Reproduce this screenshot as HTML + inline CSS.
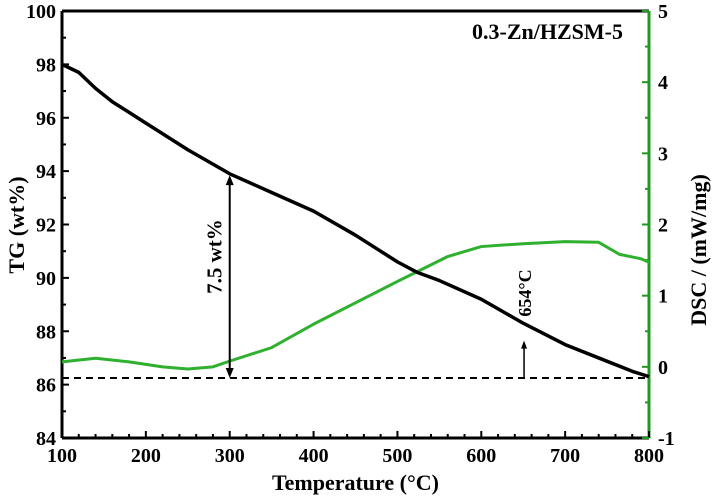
<!DOCTYPE html>
<html><head><meta charset="utf-8"><style>
html,body{margin:0;padding:0;background:#fff;}
svg{display:block;font-family:"Liberation Serif",serif;font-weight:bold;}
</style></head><body>
<svg id="chart" width="713" height="498" viewBox="0 0 713 498" xmlns="http://www.w3.org/2000/svg">
</svg>
<script>
const tgTemps=[100,120,140,160,180,200,250,300,350,400,450,500,524,550,600,650,700,740,780,800];
const tgValues=[98,97.7,97.1,96.6,96.2,95.8,94.8,93.9,93.2,92.5,91.6,90.6,90.2,89.9,89.2,88.3,87.5,87.0,86.5,86.3];
const dscTemps=[100,140,180,220,250,280,300,350,400,450,500,524,560,600,650,700,740,765,790,800];
const dscValues=[0.07,0.12,0.07,0.0,-0.03,0.0,0.08,0.27,0.6,0.9,1.2,1.34,1.55,1.69,1.73,1.76,1.75,1.58,1.52,1.47];
const xTicks=[100,200,300,400,500,600,700,800];
const tgTicks=[84,86,88,90,92,94,96,98,100];
const dscTicks=[-1,0,1,2,3,4,5];
const baselineTG=86.25;
const arrowTemp=300, arrowTop=93.85;
const onsetTemp=651, onsetTop=87.65;

const L=62,R=649,T=11,B=438;
const x=v=>L+(v-100)/700*(R-L);
const yl=v=>B-(v-84)/16*(B-T);
const yr=v=>B-(v+1)/6*(B-T);
const NS="http://www.w3.org/2000/svg";
const svg=document.getElementById('chart');
function mk(tag,attrs,parent){const e=document.createElementNS(NS,tag);for(const k in attrs)e.setAttribute(k,attrs[k]);(parent||svg).appendChild(e);return e;}
const G="#1f9a1f";
let e;
e=mk('line',{x1:L,y1:T,x2:R,y2:T,stroke:'#000','stroke-width':3});


e=mk('line',{x1:L,y1:B,x2:R,y2:B,stroke:'#000','stroke-width':3});


e=mk('line',{x1:L,y1:T,x2:L,y2:B,stroke:'#000','stroke-width':3});


e=mk('line',{x1:R,y1:T,x2:R,y2:B,stroke:G,'stroke-width':3});


for(let v=100;v<=800;v+=20){const maj=(v%100===0);mk('line',{x1:x(v),y1:B,x2:x(v),y2:B-(maj?7:4),stroke:'#000','stroke-width':2});}
xTicks.forEach(v=>{const t=mk('text',{x:x(v),y:B+24,'text-anchor':'middle','font-size':20});t.textContent=v;

});
for(let v=84;v<=100;v+=1){const maj=(v%2===0);mk('line',{x1:L,y1:yl(v),x2:L+(maj?7:4),y2:yl(v),stroke:'#000','stroke-width':2});}
tgTicks.forEach(v=>{const t=mk('text',{x:L-6,y:yl(v)+7,'text-anchor':'end','font-size':20});t.textContent=v;

});
for(let v=-1;v<=5;v+=0.5){const maj=Number.isInteger(v);mk('line',{x1:R,y1:yr(v),x2:R-(maj?7:4),y2:yr(v),stroke:G,'stroke-width':2});}
dscTicks.forEach(v=>{const t=mk('text',{x:R+9,y:yr(v)+7,'text-anchor':'start','font-size':20});t.textContent=v;

});
e=mk('text',{x:(L+R)/2,y:490,'text-anchor':'middle','font-size':22});e.textContent='Temperature (\u00B0C)';


e=mk('text',{x:0,y:0,'text-anchor':'middle','font-size':22,transform:'translate(24,225) rotate(-90)'});e.textContent='TG (wt%)';


e=mk('text',{x:0,y:0,'text-anchor':'middle','font-size':22,transform:'translate(706,250) rotate(-90)'});e.textContent='DSC / (mW/mg)';


e=mk('text',{x:623,y:39,'text-anchor':'end','font-size':22});e.textContent='0.3-Zn/HZSM-5';


e=mk('line',{x1:L,y1:yl(baselineTG),x2:R,y2:yl(baselineTG),stroke:'#000','stroke-width':2,'stroke-dasharray':'7,5'});


e=mk('polyline',{points:dscTemps.map((t,i)=>x(t)+','+yr(dscValues[i])).join(' '),fill:'none',stroke:'#2fb02f','stroke-width':3,'stroke-linejoin':'round'});


e=mk('polyline',{points:tgTemps.map((t,i)=>x(t)+','+yl(tgValues[i])).join(' '),fill:'none',stroke:'#000','stroke-width':3.5,'stroke-linejoin':'round'});


const ax=x(arrowTemp),ya=yl(arrowTop),yb=yl(baselineTG);
e=mk('line',{x1:ax,y1:ya+8,x2:ax,y2:yb-8,stroke:'#000','stroke-width':2});


mk('polygon',{points:`${ax},${ya} ${ax-4},${ya+10} ${ax+4},${ya+10}`,fill:'#000'});
mk('polygon',{points:`${ax},${yb} ${ax-4},${yb-10} ${ax+4},${yb-10}`,fill:'#000'});
e=mk('text',{x:0,y:0,'text-anchor':'middle','font-size':21,transform:`translate(${ax-8},${(ya+yb)/2-20}) rotate(-90)`});e.textContent='7.5 wt%';


const ox=x(onsetTemp);
e=mk('line',{x1:ox,y1:yb,x2:ox,y2:yl(onsetTop)+7,stroke:'#000','stroke-width':1.5});


mk('polygon',{points:`${ox},${yl(onsetTop)} ${ox-3},${yl(onsetTop)+8} ${ox+3},${yl(onsetTop)+8}`,fill:'#000'});
e=mk('text',{x:0,y:0,'text-anchor':'middle','font-size':18,transform:`translate(${ox+7},293) rotate(-90)`});e.textContent='654\u00B0C';


</script>
</body></html>
